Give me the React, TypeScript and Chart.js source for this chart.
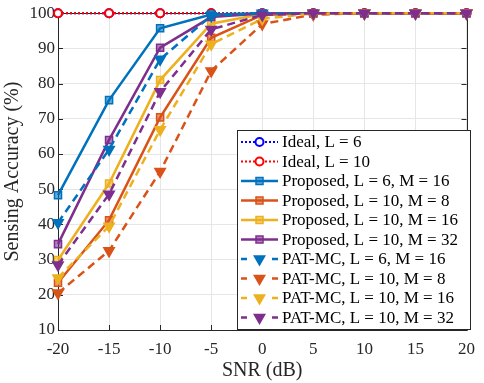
import React, { useEffect, useRef } from 'react';
import { Chart, registerables } from 'chart.js';

Chart.register(...registerables);

const snrDb = [-20, -15, -10, -5, 0, 5, 10, 15, 20];
const idealL6 = [100, 100, 100, 100, 100, 100, 100, 100, 100];
const idealL10 = [100, 100, 100, 100, 100, 100, 100, 100, 100];
const propL6M16 = [48.3, 75.3, 95.7, 99.6, 100, 100, 100, 100, 100];
const propL10M8 = [23.4, 41.2, 70.4, 93.0, 99.5, 100, 100, 100, 100];
const propL10M16 = [29.9, 51.6, 81.0, 97.0, 99.8, 100, 100, 100, 100];
const propL10M32 = [34.4, 64.0, 90.2, 98.9, 99.9, 100, 100, 100, 100];
const patL6M16 = [40.5, 61.3, 86.9, 99.3, 100, 100, 100, 100, 100];
const patL10M8 = [20.5, 32.5, 55.0, 83.6, 96.9, 99.6, 100, 100, 100];
const patL10M16 = [24.8, 39.5, 66.9, 91.2, 98.4, 99.9, 100, 100, 100];
const patL10M32 = [28.5, 48.6, 77.7, 95.4, 99.5, 100, 100, 100, 100];

const xTicks = [-20, -15, -10, -5, 0, 5, 10, 15, 20];
const yTicks = [10, 20, 30, 40, 50, 60, 70, 80, 90, 100];

const labels = [
  'Ideal, L = 6',
  'Ideal, L = 10',
  'Proposed, L = 6, M = 16',
  'Proposed, L = 10, M = 8',
  'Proposed, L = 10, M = 16',
  'Proposed, L = 10, M = 32',
  'PAT-MC, L = 6, M = 16',
  'PAT-MC, L = 10, M = 8',
  'PAT-MC, L = 10, M = 16',
  'PAT-MC, L = 10, M = 32',
];

const BLUE = '#0072BD';
const ORANGE = '#D95319';
const YELLOW = '#EDB120';
const PURPLE = '#7E2F8E';
const AX = '#262626';
const FONT = '"Liberation Serif", "DejaVu Serif", serif';

function alpha(hex: string, a: number) {
  const r = parseInt(hex.slice(1, 3), 16);
  const g = parseInt(hex.slice(3, 5), 16);
  const b = parseInt(hex.slice(5, 7), 16);
  return `rgba(${r},${g},${b},${a})`;
}

type Kind = 'ideal' | 'prop' | 'pat';
const seriesDefs: { data: number[]; color: string; kind: Kind }[] = [
  { data: idealL6, color: '#0000FF', kind: 'ideal' },
  { data: idealL10, color: '#FF0000', kind: 'ideal' },
  { data: propL6M16, color: BLUE, kind: 'prop' },
  { data: propL10M8, color: ORANGE, kind: 'prop' },
  { data: propL10M16, color: YELLOW, kind: 'prop' },
  { data: propL10M32, color: PURPLE, kind: 'prop' },
  { data: patL6M16, color: BLUE, kind: 'pat' },
  { data: patL10M8, color: ORANGE, kind: 'pat' },
  { data: patL10M16, color: YELLOW, kind: 'pat' },
  { data: patL10M32, color: PURPLE, kind: 'pat' },
];

function drawMarker(ctx: CanvasRenderingContext2D, kind: Kind, color: string, x: number, y: number) {
  ctx.save();
  ctx.setLineDash([]);
  ctx.strokeStyle = color;
  if (kind === 'ideal') {
    ctx.lineWidth = 2;
    ctx.fillStyle = '#fff';
    ctx.beginPath();
    ctx.arc(x, y, 4, 0, Math.PI * 2);
    ctx.fill();
    ctx.stroke();
  } else if (kind === 'prop') {
    ctx.lineWidth = 1.5;
    ctx.fillStyle = alpha(color, 0.6);
    ctx.beginPath();
    ctx.rect(x - 3.5, y - 3.5, 7, 7);
    ctx.fill();
    ctx.stroke();
  } else {
    ctx.lineWidth = 1.5;
    ctx.fillStyle = color;
    const r = 6;
    ctx.beginPath();
    ctx.moveTo(x - r * 0.866, y - r * 0.5);
    ctx.lineTo(x + r * 0.866, y - r * 0.5);
    ctx.lineTo(x, y + r);
    ctx.closePath();
    ctx.fill();
    ctx.stroke();
  }
  ctx.restore();
}

const framePlugin = {
  id: 'frame',
  beforeDatasetsDraw(chart: any) {
    const { ctx, chartArea: a, scales } = chart;
    ctx.save();
    ctx.strokeStyle = AX;
    ctx.lineWidth = 1;
    ctx.setLineDash([]);
    ctx.beginPath();
    ctx.rect(Math.round(a.left) + 0.5, Math.round(a.top) + 0.5, Math.round(a.right - a.left), Math.round(a.bottom - a.top));
    ctx.stroke();
    const tl = 5;
    ctx.beginPath();
    for (const v of yTicks) {
      const y = Math.round(scales.y.getPixelForValue(v)) + 0.5;
      ctx.moveTo(a.left, y);
      ctx.lineTo(a.left + tl, y);
      ctx.moveTo(a.right, y);
      ctx.lineTo(a.right - tl, y);
    }
    for (const v of xTicks) {
      const x = Math.round(scales.x.getPixelForValue(v)) + 0.5;
      ctx.moveTo(x, a.bottom);
      ctx.lineTo(x, a.bottom - tl);
      ctx.moveTo(x, a.top);
      ctx.lineTo(x, a.top + tl);
    }
    ctx.stroke();
    ctx.restore();
  },
};

const legendPlugin = {
  id: 'customLegend',
  afterDraw(chart: any) {
    const ctx: CanvasRenderingContext2D = chart.ctx;
    const left = 237, right = 471, top = 130, bottom = 330;
    ctx.save();
    ctx.fillStyle = '#fff';
    ctx.fillRect(left, top, right - left, bottom - top);
    ctx.strokeStyle = AX;
    ctx.lineWidth = 1;
    ctx.setLineDash([]);
    ctx.strokeRect(left + 0.5, top + 0.5, right - left - 1, bottom - top - 1);
    const rowH = (bottom - top - 5) / labels.length;
    ctx.font = `17px ${FONT}`;
    ctx.textBaseline = 'middle';
    ctx.textAlign = 'left';
    labels.forEach((lab, i) => {
      const def = seriesDefs[i];
      const y = top + 12 + i * rowH;
      const x0 = 241, x1 = 278, xm = 259.5;
      ctx.strokeStyle = def.color;
      if (def.kind === 'ideal') {
        ctx.lineWidth = 2;
        ctx.setLineDash([2, 2]);
        ctx.beginPath();
        ctx.moveTo(x0, y);
        ctx.lineTo(x1, y);
        ctx.stroke();
      } else if (def.kind === 'prop') {
        ctx.lineWidth = 2.5;
        ctx.setLineDash([]);
        ctx.beginPath();
        ctx.moveTo(x0, y);
        ctx.lineTo(x1, y);
        ctx.stroke();
      } else {
        ctx.lineWidth = 2.5;
        ctx.setLineDash([]);
        ctx.beginPath();
        ctx.moveTo(x0, y);
        ctx.lineTo(x0 + 6, y);
        ctx.moveTo(x1 - 6, y);
        ctx.lineTo(x1, y);
        ctx.stroke();
      }
      drawMarker(ctx, def.kind, def.color, xm, y);
      ctx.fillStyle = '#000';
      ctx.fillText(lab, 282, y + 1);
    });
    ctx.restore();
  },
};

export default function App() {
  const ref = useRef<HTMLCanvasElement | null>(null);
  useEffect(() => {
    if (!ref.current) return;
    const n = seriesDefs.length;
    const datasets = seriesDefs.map((d, i) => {
      const isIdeal = d.kind === 'ideal';
      const isPat = d.kind === 'pat';
      return {
        label: labels[i],
        data: snrDb.map((x, j) => ({ x, y: d.data[j] })),
        borderColor: d.color,
        backgroundColor: isIdeal ? '#fff' : isPat ? d.color : alpha(d.color, 0.6),
        borderWidth: isIdeal ? 2 : 2.5,
        borderDash: isIdeal ? [2, 2] : isPat ? [8, 5] : [],
        pointStyle: isIdeal ? 'circle' : isPat ? 'triangle' : 'rect',
        pointRotation: isPat ? 180 : 0,
        pointRadius: isIdeal ? 4 : isPat ? 6 : 5,
        pointBorderWidth: isIdeal ? 2 : 1.5,
        pointBorderColor: d.color,
        pointBackgroundColor: isIdeal ? '#fff' : isPat ? d.color : alpha(d.color, 0.6),
        tension: 0,
        fill: false,
        order: n - i,
        clip: 8,
      };
    });
    const chart = new Chart(ref.current, {
      type: 'line',
      data: { datasets } as any,
      options: {
        animation: false,
        responsive: false,
        devicePixelRatio: 1,
        layout: { padding: { left: 0, top: 12, right: 14, bottom: 0 } },
        plugins: {
          legend: { display: false },
          tooltip: { enabled: false },
        },
        scales: {
          x: {
            type: 'linear',
            min: -20,
            max: 20,
            afterBuildTicks: (s: any) => {
              s.ticks = xTicks.map((v) => ({ value: v }));
            },
            afterFit: (s: any) => {
              s.height = 53;
            },
            border: { display: false },
            grid: { color: '#e6e6e6', lineWidth: 1, drawTicks: false },
            ticks: {
              color: AX,
              padding: 9,
              maxRotation: 0,
              font: { family: FONT, size: 17 },
              callback: (v: any) => String(v),
            },
            title: {
              display: true,
              text: 'SNR (dB)',
              color: AX,
              font: { family: FONT, size: 20 },
              padding: { top: 0, bottom: 0 },
            },
          },
          y: {
            type: 'linear',
            min: 10,
            max: 100,
            afterBuildTicks: (s: any) => {
              s.ticks = yTicks.map((v) => ({ value: v }));
            },
            afterFit: (s: any) => {
              s.width = 58;
            },
            border: { display: false },
            grid: { color: '#e6e6e6', lineWidth: 1, drawTicks: false },
            ticks: {
              color: AX,
              padding: 3,
              font: { family: FONT, size: 17 },
              callback: (v: any) => String(v),
            },
            title: {
              display: true,
              text: 'Sensing Accuracy (%)',
              color: AX,
              font: { family: FONT, size: 20 },
              padding: { top: 1, bottom: 0 },
            },
          },
        },
      },
      plugins: [framePlugin, legendPlugin],
    } as any);
    return () => chart.destroy();
  }, []);
  return (
    <div style={{ position: 'fixed', left: 0, top: 0, width: 484, height: 383, background: '#fff' }}>
      <canvas ref={ref} width={484} height={383} />
    </div>
  );
}
